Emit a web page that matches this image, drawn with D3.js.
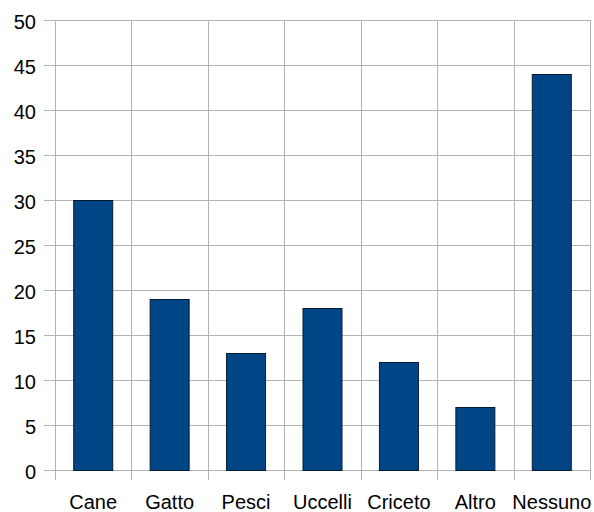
<!DOCTYPE html>
<html><head><meta charset="utf-8">
<script src="https://cdn.jsdelivr.net/npm/d3@7"></script>
<style>body{margin:0;background:#fff}svg{display:block}</style>
</head><body>
<svg id="c" width="594" height="512"></svg>
<script>
const categories = ["Cane","Gatto","Pesci","Uccelli","Criceto","Altro","Nessuno"];
const values = [30,19,13,18,12,7,44];
const yTicks = [0,5,10,15,20,25,30,35,40,45,50];

const svg = d3.select("#c");
const L = 55, R = 590, T = 20, B = 470;
const x = d3.scaleBand().domain(categories).range([L,R]).paddingInner(0).paddingOuter(0);
const y = d3.scaleLinear().domain([0,50]).range([B,T]);
const grid = "#b3b3b3";
const font = "Liberation Sans, Arial, sans-serif";

// horizontal gridlines + ticks
svg.append("g").selectAll("line").data(yTicks).join("line")
  .attr("x1", L-11).attr("x2", R)
  .attr("y1", d=>y(d)+0.5).attr("y2", d=>y(d)+0.5)
  .attr("stroke", grid).attr("stroke-width",1);
// vertical gridlines (band boundaries)
const bounds = categories.map(c=>x(c)).concat([R]);
svg.append("g").selectAll("line").data(bounds).join("line")
  .attr("x1", d=>Math.round(d)+0.5).attr("x2", d=>Math.round(d)+0.5)
  .attr("y1", T).attr("y2", B+10)
  .attr("stroke", grid).attr("stroke-width",1);

// y labels
svg.append("g").selectAll("text").data(yTicks).join("text")
  .attr("x", 36).attr("y", d=>y(d)+8.5)
  .attr("text-anchor","end").attr("font-family",font).attr("font-size",20)
  .attr("fill","#000").text(d=>d);

// bars
const bw = x.bandwidth()*0.51;
svg.append("g").selectAll("rect").data(values).join("rect")
  .attr("x", (d,i)=>x(categories[i]) + x.bandwidth()/2 - bw/2)
  .attr("width", bw)
  .attr("y", d=>y(d)+0.5)
  .attr("height", d=>B - y(d))
  .attr("fill","#004586").attr("stroke","#001a33").attr("stroke-width",1);

// x labels
svg.append("g").selectAll("text").data(categories).join("text")
  .attr("x", d=>x(d)+x.bandwidth()/2).attr("y", 509)
  .attr("text-anchor","middle").attr("font-family",font).attr("font-size",20)
  .attr("fill","#000").text(d=>d);
</script>
</body></html>
